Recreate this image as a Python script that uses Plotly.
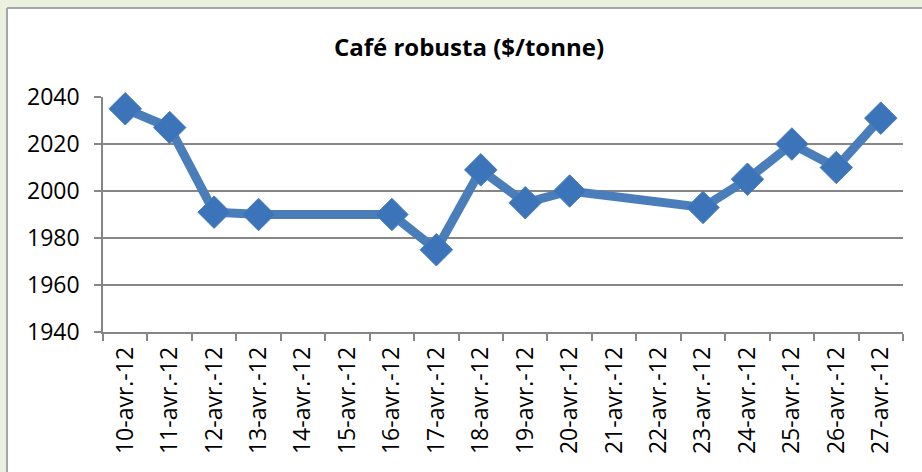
import plotly.graph_objects as go

# Data
dates = ["10-avr.-12", "11-avr.-12", "12-avr.-12", "13-avr.-12", "14-avr.-12",
         "15-avr.-12", "16-avr.-12", "17-avr.-12", "18-avr.-12", "19-avr.-12",
         "20-avr.-12", "21-avr.-12", "22-avr.-12", "23-avr.-12", "24-avr.-12",
         "25-avr.-12", "26-avr.-12", "27-avr.-12"]
prices = [2035, 2027, 1991, 1990, None, None, 1990, 1975, 2009, 1995,
          2000, None, None, 1993, 2005, 2020, 2010, 2031]
y_ticks = [1940, 1960, 1980, 2000, 2020, 2040]

FONT = "Open Sans"
GRID = "#868686"
GREEN = "#EBF1DE"

fig = go.Figure()
fig.add_trace(go.Scatter(
    x=dates,
    y=prices,
    mode="lines+markers",
    connectgaps=True,
    line=dict(color="#4A7EBB", width=9),
    marker=dict(symbol="diamond", size=25, color="#3C74BA",
                line=dict(color="#4A7EBB", width=1)),
    cliponaxis=False,
    showlegend=False,
    hoverinfo="skip",
))

# plot area in pixels: x 103..903, y 97..332
L, R, T, B = 103, 19, 97, 140
pw, ph = 922 - L - R, 472 - T - B
edge_x = (7 - L) / pw          # left edge of the white chart area
edge_y = 1 + (T - 8) / ph      # top edge of the white chart area

# green frame strips on the left and top
fig.add_shape(type="rect", xref="paper", yref="paper", layer="below",
              x0=-1, x1=edge_x, y0=-1, y1=3, fillcolor=GREEN, line_width=0)
fig.add_shape(type="rect", xref="paper", yref="paper", layer="below",
              x0=-1, x1=2, y0=edge_y, y1=3, fillcolor=GREEN, line_width=0)
# grey border of the chart area
fig.add_shape(type="line", xref="paper", yref="paper", layer="below",
              x0=edge_x, x1=edge_x, y0=-1, y1=edge_y, line=dict(color="#A6A6A6", width=2))
fig.add_shape(type="line", xref="paper", yref="paper", layer="below",
              x0=edge_x, x1=2, y0=edge_y, y1=edge_y, line=dict(color="#A6A6A6", width=2))

fig.update_layout(
    width=922, height=472,
    margin=dict(l=L, r=R, t=T, b=B),
    paper_bgcolor="white",
    plot_bgcolor="white",
    font=dict(family=FONT, size=23, color="black"),
    title=dict(text="<b>Café robusta ($/tonne)</b>", x=469 / 922, xanchor="center",
               y=1 - 48 / 472, yanchor="middle",
               font=dict(family=FONT, size=24, color="black")),
)
fig.update_xaxes(
    type="category", categoryorder="array", categoryarray=dates,
    range=[-0.5, len(dates) - 0.5],
    tickson="boundaries", ticks="outside", ticklen=7, tickcolor=GRID, tickwidth=1.5,
    tickangle=-90, showline=True, linecolor=GRID, linewidth=1.5,
    showgrid=False, ticklabelstandoff=4, automargin=False,
)
fig.update_yaxes(
    range=[1940, 2040], tickvals=y_ticks, ticks="outside", ticklen=7,
    tickcolor=GRID, tickwidth=1.5, showline=True, linecolor=GRID, linewidth=1.5,
    showgrid=True, gridcolor=GRID, gridwidth=1.5, zeroline=False,
    ticklabelstandoff=10, automargin=False,
)

# drop the default page margin and scrollbars so the figure fills the window
fig.write_html("out.html", config={"displayModeBar": False},
               post_script="document.body.style.margin='0';"
                           "document.body.style.overflow='hidden';")
